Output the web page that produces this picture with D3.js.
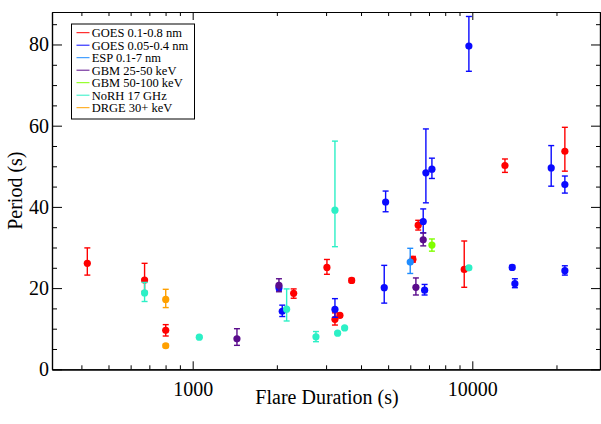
<!DOCTYPE html>
<html>
<head>
<meta charset="utf-8">
<script src="https://cdn.jsdelivr.net/npm/d3@7"></script>
<style>
  html, body { margin: 0; padding: 0; background: #fff; }
  svg { display: block; }
  text { font-family: "Liberation Serif", "Times New Roman", serif; fill: #000; }
</style>
</head>
<body>
<script>
// ---------- DATA ----------
const seriesNames = ["GOES 0.1-0.8 nm", "GOES 0.05-0.4 nm", "ESP 0.1-7 nm", "GBM 25-50 keV", "GBM 50-100 keV", "NoRH 17 GHz", "DRGE 30+ keV"];
const seriesColors = ["#ff0000", "#0a0aff", "#1e8cff", "#5a0c8c", "#80ff00", "#2cf0c6", "#ffa000"];

// GOES 0.1-0.8 nm
const goesLongDur    = [420, 673, 801, 2297, 3021, 3227, 3362, 3703, 6133, 6405, 9357, 13085, 21430];
const goesLongPeriod = [26.1, 22.0, 9.6, 18.7, 25.1, 12.3, 13.3, 21.9, 27.1, 35.5, 24.6, 50.2, 53.7];
const goesLongLo     = [23.2, 19.2, 8.2, 17.5, 23.4, 10.9, 12.9, 21.4, 26.4, 34.3, 20.2, 48.5, 48.8];
const goesLongHi     = [29.9, 26.1, 11.0, 19.8, 27.05, 13.9, 13.7, 22.4, 27.8, 36.7, 31.6, 51.8, 59.6];

// GOES 0.05-0.4 nm
const goesShortDur    = [2035, 2091, 3227, 4842, 4898, 6675, 6752, 6824, 7171, 9723, 13890, 14200, 19150, 21430, 21430];
const goesShortPeriod = [20.1, 14.3, 14.75, 20.1, 41.2, 36.4, 19.5, 48.4, 49.3, 79.6, 25.1, 21.1, 49.6, 45.5, 24.3];
const goesShortLo     = [19.5, 13.0, 12.8, 16.3, 38.8, 33.6, 18.3, 41.0, 47.0, 73.4, 24.6, 20.1, 45.1, 43.4, 23.2];
const goesShortHi     = [20.6, 15.8, 17.4, 25.6, 43.9, 39.5, 20.9, 59.2, 52.0, 86.9, 25.6, 22.3, 55.1, 47.6, 25.5];

// ESP 0.1-7 nm
const espDur    = [5998];
const espPeriod = [26.4];
const espLo     = [23.6];
const espHi     = [29.8];

// GBM 25-50 keV
const gbmLowDur    = [1440, 2035, 6285, 6675];
const gbmLowPeriod = [7.5, 20.7, 20.2, 31.9];
const gbmLowLo     = [5.9, 19.1, 18.3, 30.4];
const gbmLowHi     = [10.0, 22.3, 22.5, 33.6];

// GBM 50-100 keV
const gbmHighDur    = [7171];
const gbmHighPeriod = [30.6];
const gbmHighLo     = [29.1];
const gbmHighHi     = [32.1];

// NoRH 17 GHz
const norhDur    = [673, 1056, 2168, 2760, 3227, 3299, 3495, 9723];
const norhPeriod = [18.8, 7.9, 14.8, 8.0, 39.2, 8.9, 10.2, 25.0];
const norhLo     = [16.7, 7.6, 11.9, 6.8, 30.2, 8.6, 9.9, 24.6];
const norhHi     = [21.4, 8.2, 19.8, 9.3, 56.2, 9.2, 10.5, 25.4];

// DRGE 30+ keV
const drgeDur    = [801, 801];
const drgePeriod = [17.2, 5.8];
const drgeLo     = [15.2, 5.4];
const drgeHi     = [19.7, 6.2];

const xMajorTicks = [1000, 10000];
const xMinorTicks = [400, 500, 600, 700, 800, 900, 2000, 3000, 4000, 5000, 6000, 7000, 8000, 9000, 20000];
const yMajorTicks = [0, 20, 40, 60, 80];
const yMinorTicks = [5, 10, 15, 25, 30, 35, 45, 50, 55, 65, 70, 75, 85];

const xLabel = "Flare Duration (s)";
const yLabel = "Period (s)";

// ---------- BUILD ----------
const seriesData = [
  [goesLongDur, goesLongPeriod, goesLongLo, goesLongHi],
  [goesShortDur, goesShortPeriod, goesShortLo, goesShortHi],
  [espDur, espPeriod, espLo, espHi],
  [gbmLowDur, gbmLowPeriod, gbmLowLo, gbmLowHi],
  [gbmHighDur, gbmHighPeriod, gbmHighLo, gbmHighHi],
  [norhDur, norhPeriod, norhLo, norhHi],
  [drgeDur, drgePeriod, drgeLo, drgeHi]
].map((s, i) => ({
  name: seriesNames[i],
  color: seriesColors[i],
  points: s[0].map((d, j) => ({ x: d, y: s[1][j], lo: s[2][j], hi: s[3][j] }))
}));

const W = 601, H = 424;
const L = 52, R = 600, T = 12, B = 369.3;

const svg = d3.select("body").append("svg").attr("width", W).attr("height", H);

const x = d3.scaleLog().domain([314, 28620]).range([L, R]);
const y = d3.scaleLinear().domain([0, 88]).range([B, T]);

// Axes
function addAxis(axisFn, scale, ticks, size, transform, labels) {
  const g = svg.append("g").attr("transform", transform)
    .call(axisFn(scale).tickValues(ticks).tickSize(size).tickSizeOuter(0)
      .tickFormat(labels ? d3.format("d") : ""));
  g.select(".domain").attr("stroke", "#000").attr("stroke-width", 1.2);
  g.selectAll(".tick line").attr("stroke", "#000").attr("stroke-width", 1);
  return g;
}
// bottom
const bx = addAxis(d3.axisBottom, x, xMajorTicks, -8, `translate(0,${B})`, true);
bx.selectAll(".tick text").attr("y", 13).attr("font-size", 20).attr("font-family", "Liberation Serif");
addAxis(d3.axisBottom, x, xMinorTicks, -4, `translate(0,${B})`, false);
// top
addAxis(d3.axisTop, x, xMajorTicks, -8, `translate(0,${T})`, false);
addAxis(d3.axisTop, x, xMinorTicks, -4, `translate(0,${T})`, false);
// left
const ly = addAxis(d3.axisLeft, y, yMajorTicks, -10, `translate(${L},0)`, true);
ly.selectAll(".tick text").attr("x", -3).attr("font-size", 20).attr("font-family", "Liberation Serif");
addAxis(d3.axisLeft, y, yMinorTicks, -5, `translate(${L},0)`, false);
// right
addAxis(d3.axisRight, y, yMajorTicks, -9, `translate(${R},0)`, false);
addAxis(d3.axisRight, y, yMinorTicks, -4, `translate(${R},0)`, false);

// Axis titles
svg.append("text").attr("x", (L + R) / 2 + 1).attr("y", 404)
  .attr("text-anchor", "middle").attr("font-size", 20).text(xLabel);
svg.append("text").attr("transform", `translate(22,${(T + B) / 2}) rotate(-90)`)
  .attr("text-anchor", "middle").attr("font-size", 20).text(yLabel);

// Data
const plot = svg.append("g");
const capW = 3;
seriesData.forEach(s => {
  const g = plot.append("g");
  s.points.forEach(p => {
    const cx = x(p.x);
    g.append("line").attr("x1", cx).attr("x2", cx).attr("y1", y(p.lo)).attr("y2", y(p.hi))
      .attr("stroke", s.color).attr("stroke-width", 1.4);
    [p.lo, p.hi].forEach(v => {
      g.append("line").attr("x1", cx - capW).attr("x2", cx + capW).attr("y1", y(v)).attr("y2", y(v))
        .attr("stroke", s.color).attr("stroke-width", 1.4);
    });
    g.append("circle").attr("cx", cx).attr("cy", y(p.y)).attr("r", 3.6).attr("fill", s.color);
  });
});

// Legend
const lg = svg.append("g");
lg.append("rect").attr("x", 71.5).attr("y", 24).attr("width", 123).attr("height", 95)
  .attr("fill", "#fff").attr("stroke", "#000").attr("stroke-width", 1);
seriesData.forEach((s, i) => {
  const cy = 32.7 + i * 12.5;
  lg.append("line").attr("x1", 76.5).attr("x2", 89.5).attr("y1", cy).attr("y2", cy)
    .attr("stroke", s.color).attr("stroke-width", 1);
  lg.append("text").attr("x", 91.7).attr("y", cy).attr("dy", "0.35em")
    .attr("font-size", 12.5).text(s.name);
});
</script>
</body>
</html>
